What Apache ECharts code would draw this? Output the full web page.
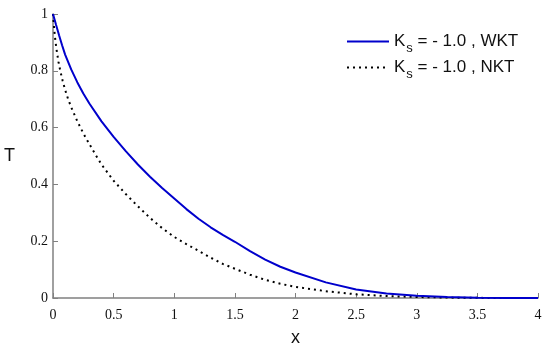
<!DOCTYPE html>
<html>
<head>
<meta charset="utf-8">
<script src="https://cdn.jsdelivr.net/npm/echarts@6/dist/echarts.min.js"></script>
<style>html,body{margin:0;padding:0;background:#fff}#c{width:550px;height:352px}</style>
</head>
<body>
<div id="c"></div>
<script>
var xTicks = [0, 0.5, 1, 1.5, 2, 2.5, 3, 3.5, 4];
var yTicks = [0, 0.2, 0.4, 0.6, 0.8, 1];

var xWKT = [0, 0.025, 0.05, 0.075, 0.1, 0.15, 0.2, 0.25, 0.3, 0.4, 0.5, 0.6, 0.7, 0.8, 0.9, 1.0, 1.1, 1.2, 1.3, 1.4, 1.5, 1.625, 1.75, 1.875, 2.0, 2.25, 2.5, 2.75, 3.0, 3.25, 3.5, 3.75, 4.0];
var tWKT = [1.0, 0.962, 0.925, 0.89, 0.857, 0.805, 0.76, 0.72, 0.685, 0.622, 0.567, 0.517, 0.47, 0.427, 0.387, 0.35, 0.313, 0.279, 0.249, 0.222, 0.198, 0.165, 0.135, 0.11, 0.09, 0.055, 0.03, 0.016, 0.008, 0.0035, 0.0012, 0.0003, 0.0];

var xNKT = [0, 0.01, 0.02, 0.03, 0.045, 0.06, 0.08, 0.1, 0.125, 0.15, 0.2, 0.25, 0.3, 0.35, 0.4, 0.5, 0.6, 0.7, 0.8, 0.9, 1.0, 1.1, 1.2, 1.3, 1.4, 1.5, 1.625, 1.75, 1.875, 2.0, 2.25, 2.5, 2.75, 3.0, 3.25, 3.5, 3.75, 4.0];
var tNKT = [1.0, 0.945, 0.905, 0.873, 0.832, 0.8, 0.764, 0.733, 0.7, 0.672, 0.623, 0.58, 0.542, 0.505, 0.47, 0.413, 0.366, 0.323, 0.282, 0.246, 0.215, 0.19, 0.166, 0.142, 0.12, 0.103, 0.082, 0.064, 0.05, 0.039, 0.024, 0.013, 0.007, 0.0035, 0.0015, 0.0005, 0.0001, 0.0];

var nameWKT = 'Ks = - 1.0 , WKT';
var nameNKT = 'Ks = - 1.0 , NKT';

function pairs(xs, ys) { return xs.map(function (x, i) { return [x, ys[i]]; }); }

var chart = echarts.init(document.getElementById('c'), null, {renderer: 'canvas'});
var axisCol = '#808080';
var tickFont = {fontFamily: 'Liberation Serif', fontSize: 14, color: '#111'};
chart.setOption({
  animation: false,
  grid: {left: 53, right: 12, top: 14, bottom: 51, containLabel: false},
  legend: {
    orient: 'vertical',
    left: 341, top: 28,
    itemWidth: 42, itemHeight: 14, itemGap: 4,
    itemStyle: {opacity: 0},
    data: [nameWKT, nameNKT],
    formatter: function (n) {
      return '{a|K}{s|s}{a|' + n.substring(2) + '}';
    },
    textStyle: {
      rich: {
        a: {fontFamily: 'Liberation Sans', fontSize: 17, color: '#111'},
        s: {fontFamily: 'Liberation Sans', fontSize: 13, color: '#111', padding: [14, 0, 0, 1]}
      }
    }
  },
  xAxis: {
    type: 'value', min: 0, max: 4, interval: 0.5,
    name: 'x', nameLocation: 'middle', nameGap: 31,
    nameTextStyle: {fontFamily: 'Liberation Sans', fontSize: 18, color: '#111'},
    axisLine: {lineStyle: {color: axisCol, width: 1.5}},
    axisTick: {inside: true, length: 5, lineStyle: {color: axisCol}},
    axisLabel: Object.assign({margin: 10, formatter: function (v) { return String(v); }}, tickFont),
    splitLine: {show: false}
  },
  yAxis: {
    type: 'value', min: 0, max: 1, interval: 0.2,
    name: 'T', nameLocation: 'middle', nameGap: 38, nameRotate: 0,
    nameTextStyle: {fontFamily: 'Liberation Sans', fontSize: 18, color: '#111'},
    axisLine: {show: true, lineStyle: {color: axisCol, width: 1.5}},
    axisTick: {show: true, inside: true, length: 5, lineStyle: {color: axisCol}},
    axisLabel: Object.assign({margin: 5, formatter: function (v) { return String(Math.round(v * 10) / 10); }}, tickFont),
    splitLine: {show: false}
  },
  series: [
    {
      name: nameWKT, type: 'line', data: pairs(xWKT, tWKT),
      showSymbol: false, symbol: 'none', smooth: false,
      lineStyle: {color: '#0000cc', width: 2},
      itemStyle: {color: '#0000cc'}, z: 3
    },
    {
      name: nameNKT, type: 'line', data: pairs(xNKT, tNKT),
      showSymbol: false, symbol: 'none', smooth: false,
      lineStyle: {color: '#000', width: 2, type: [2, 4]},
      itemStyle: {color: '#000'}, z: 2
    }
  ]
});
</script>
</body>
</html>
